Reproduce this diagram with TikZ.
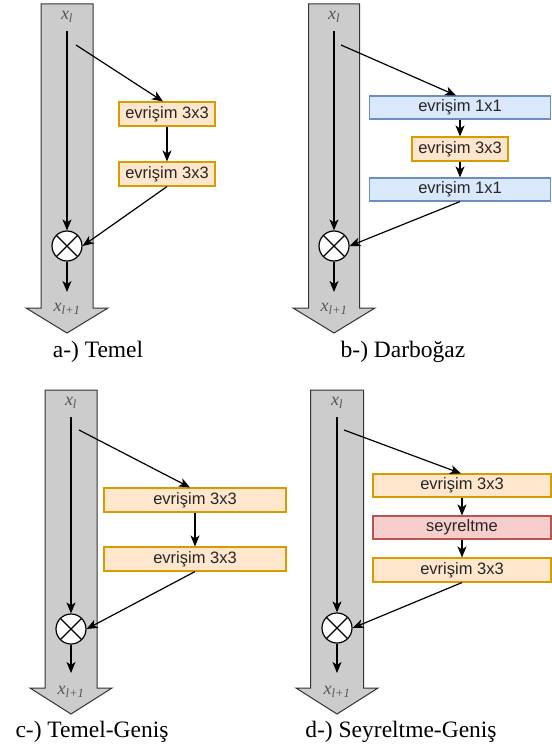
\documentclass[tikz,border=0pt]{standalone}
\usepackage{fontspec}
\setmainfont{Liberation Serif}
\setsansfont{Liberation Sans}
\usetikzlibrary{arrows.meta}
\definecolor{orfill}{HTML}{FFE6CC}
\definecolor{ordraw}{HTML}{D79B00}
\definecolor{blfill}{HTML}{DAE8FC}
\definecolor{bldraw}{HTML}{6C8EBF}
\definecolor{rdfill}{HTML}{F8CECC}
\definecolor{rddraw}{HTML}{B85450}
\definecolor{shaftfill}{HTML}{CCCCCC}
\definecolor{shaftdraw}{HTML}{333333}
\definecolor{lbl}{HTML}{555555}
\newcommand{\shaftarrow}[6]{%
  \filldraw[fill=shaftfill, draw=shaftdraw, line width=1pt]
    (#1-#5,#2) -- (#1+#5,#2) -- (#1+#5,#3) -- (#1+#6,#3) -- (#1,#4)
    -- (#1-#6,#3) -- (#1-#5,#3) -- cycle;}
\tikzset{
  box/.style={draw, line width=1.1pt, minimum height=24pt, inner sep=0pt,
    font=\sffamily\fontsize{16.5}{18}\selectfont, text=black!85},
  orbox/.style={box, fill=orfill, draw=ordraw},
  blbox/.style={box, fill=blfill, draw=bldraw, minimum height=23pt},
  rdbox/.style={box, fill=rdfill, draw=rddraw, minimum height=23pt},
  sum/.style={circle, draw, line width=1.2pt, fill=white, minimum size=30pt, inner sep=0pt,
    path picture={\draw[line width=1.2pt]
      (path picture bounding box.north west) -- (path picture bounding box.south east)
      (path picture bounding box.north east) -- (path picture bounding box.south west);}},
  arr/.style={-{Stealth[length=11pt,width=9pt,inset=3pt]}, line width=1.2pt},
  lab/.style={text=lbl, font=\fontsize{18}{20}\selectfont\itshape, inner sep=0pt},
  captext/.style={font=\fontsize{23.5}{27}\selectfont, anchor=base, inner sep=0pt}
}
\begin{document}
\begin{tikzpicture}[x=1pt,y=-1pt]
\useasboundingbox (0,0) rectangle (551,751);
% ---------- a
\shaftarrow{67}{4}{308}{333}{26}{41}
\node[lab] (a-x) at (67,17) {x\textsubscript{l}};
\coordinate (a-s) at (67,31);
\coordinate (a-d) at (76,45);
\node[orbox, minimum width=96pt] (a-1) at (167,114) {evrişim 3x3};
\node[orbox, minimum width=96pt] (a-2) at (167,174) {evrişim 3x3};
\node[sum] (a-c) at (67,246) {};
\coordinate (a-e) at (67,292);
\node[lab] (a-y) at (67,309) {x\textsubscript{l+1}};
\draw[arr] (a-s) -- (a-c);
\draw[arr] (a-d) -- ([xshift=-4pt]a-1.north);
\draw[arr] (a-1) -- (a-2);
\draw[arr] (a-2.south) -- (a-c.east);
\draw[arr] (a-c) -- (a-e);
\node[captext] (a-t) at (98,357) {a-) Temel};
% ---------- b
\shaftarrow{334}{4}{308}{333}{25.5}{41}
\node[lab] (b-x) at (334,17) {x\textsubscript{l}};
\coordinate (b-s) at (334,31);
\coordinate (b-d) at (341,45);
\node[blbox, minimum width=181pt] (b-1) at (460,107.5) {evrişim 1x1};
\node[orbox, minimum width=96pt] (b-2) at (460,149) {evrişim 3x3};
\node[blbox, minimum width=181pt] (b-3) at (460,189.5) {evrişim 1x1};
\node[sum] (b-c) at (334,246) {};
\coordinate (b-e) at (334,292);
\node[lab] (b-y) at (334,309) {x\textsubscript{l+1}};
\draw[arr] (b-s) -- (b-c);
\draw[arr] (b-d) -- ([xshift=-4pt]b-1.north);
\draw[arr] (b-1) -- (b-2);
\draw[arr] (b-2) -- (b-3);
\draw[arr] (b-3.south) -- (b-c.east);
\draw[arr] (b-c) -- (b-e);
\node[captext] (b-t) at (403,357) {b-) Darboğaz};
% ---------- c
\shaftarrow{71}{390}{688}{714}{26}{41}
\node[lab] (c-x) at (71,403) {x\textsubscript{l}};
\coordinate (c-s) at (71,417);
\coordinate (c-d) at (79,430);
\node[orbox, minimum width=182pt] (c-1) at (195,500) {evrişim 3x3};
\node[orbox, minimum width=182pt] (c-2) at (195,559) {evrişim 3x3};
\node[sum] (c-c) at (71,629) {};
\coordinate (c-e) at (71,673);
\node[lab] (c-y) at (71,692) {x\textsubscript{l+1}};
\draw[arr] (c-s) -- (c-c);
\draw[arr] (c-d) -- ([xshift=-5pt]c-1.north);
\draw[arr] (c-1) -- (c-2);
\draw[arr] (c-2.south) -- (c-c.east);
\draw[arr] (c-c) -- (c-e);
\node[captext] (c-t) at (92,737) {c-) Temel-Geniş};
% ---------- d
\shaftarrow{337}{390}{688}{714}{26.5}{41}
\node[lab] (d-x) at (337,403) {x\textsubscript{l}};
\coordinate (d-s) at (337,417);
\coordinate (d-d) at (344,430);
\node[orbox, minimum width=178pt, minimum height=23pt] (d-1) at (462,485.5) {evrişim 3x3};
\node[rdbox, minimum width=178pt] (d-2) at (462,527.5) {seyreltme};
\node[orbox, minimum width=178pt] (d-3) at (462,570) {evrişim 3x3};
\node[sum] (d-c) at (337,628) {};
\coordinate (d-e) at (337,673);
\node[lab] (d-y) at (337,692) {x\textsubscript{l+1}};
\draw[arr] (d-s) -- (d-c);
\draw[arr] (d-d) -- ([xshift=-1pt]d-1.north);
\draw[arr] (d-1) -- (d-2);
\draw[arr] (d-2) -- (d-3);
\draw[arr] (d-3.south) -- (d-c.east);
\draw[arr] (d-c) -- (d-e);
\node[captext] (d-t) at (401,737) {d-) Seyreltme-Geniş};
\end{tikzpicture}
\end{document}
